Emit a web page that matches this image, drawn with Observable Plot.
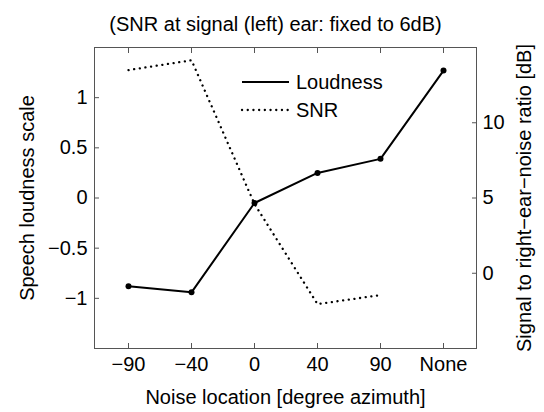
<!DOCTYPE html>
<html><head><meta charset="utf-8">
<script src="https://cdn.jsdelivr.net/npm/d3@7"></script>
<script src="https://cdn.jsdelivr.net/npm/@observablehq/plot@0.6"></script>
<style>
body{margin:0;background:#fff;font-family:"Liberation Sans",Arial,sans-serif;}
#wrap{position:relative;width:544px;height:412px;}
#legend{position:absolute;left:240px;top:68px;font-size:20px;line-height:28px;color:#000;}
#legend .row{display:flex;align-items:center;height:28px;}
#legend svg{margin-right:6px;}
</style></head><body><div id="wrap"></div>
<script>
const locations = ["−90", "−40", "0", "40", "90", "None"];
const loudness = [-0.88, -0.94, -0.05, 0.25, 0.39, 1.27];
const snrLocations = ["−90", "−40", "0", "40", "90"];
const snr = [13.5, 14.15, 4.6, -2.05, -1.45];
const leftTicks = [-1, -0.5, 0, 0.5, 1];
const rightTicks = [0, 5, 10];
const leftDomain = [-1.5, 1.5];
const rightDomain = [-5, 15];
const title = "(SNR at signal (left) ear: fixed to 6dB)";
const xLabel = "Noise location [degree azimuth]";
const yLabel = "Speech loudness scale";
const y2Label = "Signal to right\u2212ear\u2212noise ratio [dB]";
const seriesNames = ["Loudness", "SNR"];

const loudData = locations.map((loc, i) => ({loc, v: loudness[i]}));
const snrData = snrLocations.map((loc, i) => ({loc, v: snr[i]}));
const toLeft = d3.scaleLinear(rightDomain, leftDomain);
const fmt = d => (d < 0 ? "\u2212" + Math.abs(d) : String(d));
const dotted = {strokeWidth: 2.3, strokeDasharray: "0.1,5.6", strokeLinecap: "round"};

const chart = Plot.plot({
  width: 544, height: 412,
  marginLeft: 94, marginRight: 68, marginTop: 47, marginBottom: 64,
  style: {fontSize: "20px", fontFamily: '"Liberation Sans", Arial, sans-serif', color: "#000", background: "#fff"},
  x: {type: "point", domain: locations, padding: 0.5},
  y: {domain: leftDomain},
  marks: [
    Plot.frame({stroke: "#555", strokeWidth: 1}),
    Plot.axisX({anchor: "bottom", tickSize: 0, tickPadding: 8, label: null}),
    Plot.axisX({anchor: "bottom", tickSize: 5, dy: -5, tickFormat: () => "", label: null, stroke: "#555"}),
    Plot.axisX({anchor: "top", tickSize: 5, dy: 5, tickFormat: () => "", label: null, stroke: "#555"}),
    Plot.axisY(leftTicks, {anchor: "left", tickSize: 0, tickPadding: 7, tickFormat: fmt, label: null}),
    Plot.axisY(leftTicks, {anchor: "left", tickSize: 5, dx: 5, tickFormat: () => "", label: null, stroke: "#555"}),
    Plot.axisY(rightTicks.map(toLeft), {anchor: "right", tickSize: 0, tickPadding: 6, tickFormat: d => fmt(Math.round(toLeft.invert(d))), label: null}),
    Plot.axisY(rightTicks.map(toLeft), {anchor: "right", tickSize: 5, dx: -5, tickFormat: () => "", label: null, stroke: "#555"}),
    Plot.line(snrData, {x: "loc", y: d => toLeft(d.v), stroke: "#000", ...dotted}),
    Plot.line(loudData, {x: "loc", y: "v", stroke: "#000", strokeWidth: 2}),
    Plot.dot(loudData, {x: "loc", y: "v", r: 3, fill: "#000"}),
    Plot.text([title], {frameAnchor: "top", textAnchor: "middle", lineAnchor: "bottom", dy: -16.5, dx: -10, fill: "#000"}),
    Plot.text([xLabel], {frameAnchor: "bottom", textAnchor: "middle", lineAnchor: "bottom", dy: 55, fill: "#000"}),
    Plot.text([yLabel], {frameAnchor: "left", textAnchor: "middle", lineAnchor: "bottom", rotate: -90, dx: -61, fill: "#000"}),
    Plot.text([y2Label], {frameAnchor: "right", textAnchor: "middle", lineAnchor: "bottom", rotate: -90, dx: 54, fill: "#000"})
  ]
});
const wrap = document.getElementById("wrap");
wrap.appendChild(chart);

const legend = document.createElement("div");
legend.id = "legend";
const styles = [
  {extra: "", w: 2},
  {extra: `stroke-dasharray="${dotted.strokeDasharray}" stroke-linecap="round"`, w: dotted.strokeWidth}
];
seriesNames.forEach((name, i) => {
  const row = document.createElement("div");
  row.className = "row";
  row.innerHTML = `<svg width="50" height="10"><line x1="2" x2="49" y1="5" y2="5" stroke="#000" stroke-width="${styles[i].w}" ${styles[i].extra}/></svg><span>${name}</span>`;
  legend.appendChild(row);
});
wrap.appendChild(legend);
</script>
</body></html>
